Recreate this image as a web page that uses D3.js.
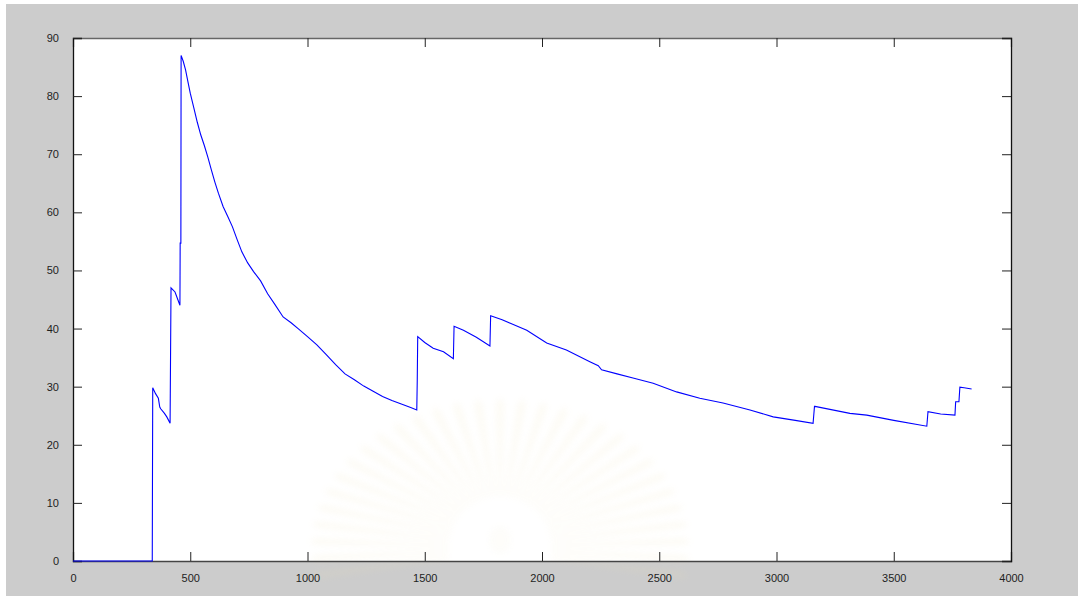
<!DOCTYPE html>
<html>
<head>
<meta charset="utf-8">
<script src="https://cdn.jsdelivr.net/npm/d3@7"></script>
<style>
  html, body { margin: 0; padding: 0; background: #ffffff; }
  svg { display: block; }
  .tick text { font-family: "Liberation Sans", Arial, sans-serif; font-size: 11px; fill: #1e1e1e; }
</style>
</head>
<body>
<svg id="chart" width="1078" height="596"></svg>
<script>
// Signal trace: sample index vs value
const sampleX = [0, 338, 340, 352, 364, 370, 374, 390, 400, 414, 416, 418, 435, 456, 457, 460, 461,
  470, 480, 490, 500, 515, 530, 545, 560, 575, 590, 605, 620, 640, 660, 680, 700, 720, 745, 770, 800,
  830, 860, 896, 930, 960, 1000, 1040, 1080, 1120, 1160, 1200, 1240, 1280, 1320, 1360, 1400, 1440, 1466,
  1468, 1470, 1500, 1536, 1580, 1622, 1625, 1665, 1720, 1778, 1781, 1830, 1865, 1935,
  2020, 2104, 2204, 2240, 2254, 2320, 2388, 2474, 2574, 2673, 2772, 2887, 2986, 3080, 3156, 3162, 3164, 3313,
  3385, 3500, 3641, 3646, 3700, 3761, 3764, 3778, 3782, 3800, 3832];
const sampleY = [0, 0, 29.8, 28.8, 28, 26.5, 26.2, 25.4, 24.8, 23.7, 35.4, 47, 46.3, 44, 54.7, 54.7, 87,
  86, 84.5, 82.5, 80.5, 78, 75.5, 73.3, 71.5, 69.5, 67.3, 65.2, 63.3, 61, 59.3, 57.5, 55.3, 53.2, 51.3, 49.8, 48.2,
  46, 44.2, 42, 41, 40, 38.6, 37.2, 35.5, 33.8, 32.2, 31.2, 30.1, 29.2, 28.3, 27.6, 27, 26.4, 26,
  31, 38.6, 37.6, 36.6, 36, 34.8, 40.4, 39.7, 38.5, 37, 42.2, 41.5, 40.9, 39.7,
  37.5, 36.3, 34.3, 33.6, 32.9, 32.2, 31.5, 30.6, 29.1, 28, 27.2, 26, 24.8, 24.2, 23.7, 26.6, 26.6, 25.4,
  25.1, 24.2, 23.2, 25.7, 25.3, 25.1, 27.4, 27.4, 29.9, 29.8, 29.6];

const xTicks = [0, 500, 1000, 1500, 2000, 2500, 3000, 3500, 4000];
const yTicks = [0, 10, 20, 30, 40, 50, 60, 70, 80, 90];

const svg = d3.select("#chart");
const W = 1078, H = 596;
const plot = { left: 73, top: 38, right: 1011, bottom: 561 };

const x = d3.scaleLinear().domain([0, 4000]).range([plot.left, plot.right]);
const y = d3.scaleLinear().domain([0, 90]).range([plot.bottom, plot.top]);

// figure background
svg.append("rect").attr("x", 6).attr("y", 4).attr("width", W - 6).attr("height", H - 4).attr("fill", "#cccccc");

// axes area
svg.append("rect")
  .attr("x", plot.left).attr("y", plot.top)
  .attr("width", plot.right - plot.left).attr("height", plot.bottom - plot.top)
  .attr("fill", "#ffffff");

// faint emblem in the page background
const defs = svg.append("defs");
defs.append("filter").attr("id", "soft").attr("x", "-20%").attr("y", "-20%").attr("width", "140%").attr("height", "140%")
  .append("feGaussianBlur").attr("stdDeviation", 3);
const emblem = svg.append("g").attr("filter", "url(#soft)").attr("opacity", 0.3);
const cx = 500, cy = 548;
const nRays = 30;
for (let i = 0; i <= nRays; i++) {
  const a = Math.PI + (i / nRays) * Math.PI * 1.12 - 0.06 * Math.PI;
  const r0 = 52, rx = 185, ry = 145;
  const w = 0.045;
  const p = [
    [cx + r0 * Math.cos(a - w * 0.6), cy + r0 * Math.sin(a - w * 0.6)],
    [cx + rx * Math.cos(a - w * 0.5), cy + ry * Math.sin(a - w * 0.5)],
    [cx + (rx + 6) * Math.cos(a), cy + (ry + 6) * Math.sin(a)],
    [cx + rx * Math.cos(a + w * 0.5), cy + ry * Math.sin(a + w * 0.5)],
    [cx + r0 * Math.cos(a + w * 0.6), cy + r0 * Math.sin(a + w * 0.6)]
  ];
  emblem.append("path").attr("d", d3.line()(p) + "Z").attr("fill", "#f0e2b4").attr("opacity", 0.45);
}
emblem.append("ellipse").attr("cx", cx).attr("cy", cy - 8).attr("rx", 11).attr("ry", 14).attr("fill", "#e8dab0").attr("opacity", 0.2);

// axes with MATLAB-style inward ticks
const tickLen = 9;
const bottomAxis = d3.axisBottom(x).tickValues(xTicks).tickSize(-tickLen).tickPadding(tickLen + 4).tickFormat(d3.format("d"));
const topAxis = d3.axisTop(x).tickValues(xTicks).tickSize(-tickLen).tickFormat("");
const leftAxis = d3.axisLeft(y).tickValues(yTicks).tickSize(-tickLen).tickPadding(tickLen + 5).tickFormat(d3.format("d"));
const rightAxis = d3.axisRight(y).tickValues(yTicks).tickSize(-tickLen).tickFormat("");

function styleAxis(g, color) {
  g.select(".domain").attr("stroke", color).attr("stroke-width", 1.3);
  g.selectAll(".tick line").attr("stroke", "#222222").attr("stroke-width", 1);
}

svg.append("g").attr("transform", `translate(0,${plot.bottom})`).call(bottomAxis).call(g => styleAxis(g, "#444444"));
svg.append("g").attr("transform", `translate(0,${plot.top})`).call(topAxis).call(g => styleAxis(g, "#666666"));
svg.append("g").attr("transform", `translate(${plot.left},0)`).call(leftAxis).call(g => styleAxis(g, "#111111"));
svg.append("g").attr("transform", `translate(${plot.right},0)`).call(rightAxis).call(g => styleAxis(g, "#111111"));

// data line
const pts = sampleX.map((v, i) => [v, sampleY[i]]);
svg.append("path")
  .datum(pts)
  .attr("fill", "none")
  .attr("stroke", "#0000ff")
  .attr("stroke-width", 1.1)
  .attr("d", d3.line().x(d => x(d[0])).y(d => y(d[1])));
</script>
</body>
</html>
